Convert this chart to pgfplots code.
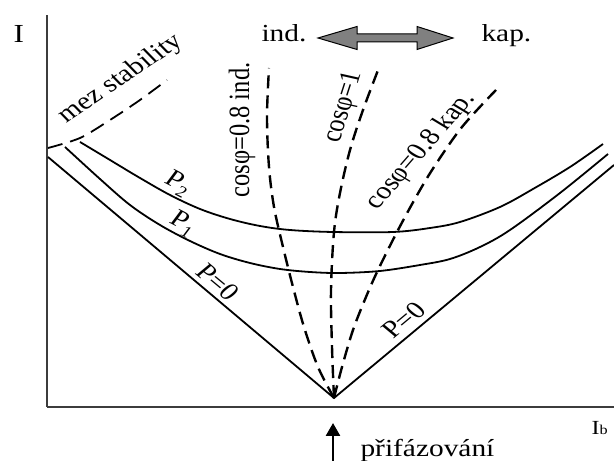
\documentclass[border=0pt]{standalone}
\usepackage{fontspec}
\setmainfont{Liberation Serif}
\usepackage{graphicx}
\usepackage{pgfplots}
\pgfplotsset{compat=1.18}
\usetikzlibrary{arrows.meta}

\definecolor{arrowgray}{RGB}{128,128,128}
\definecolor{axisgray}{RGB}{60,60,60}

% text widened horizontally, optionally rotated
\newcommand{\lab}[2]{\scalebox{1.2}[1]{\rotatebox{#1}{#2}}}
\newcommand{\sub}[1]{\raisebox{-0.22em}{\fontsize{16bp}{16bp}\selectfont #1}}

\pgfplotstableread{
x y
48 250
334 9
614 242
}\pzero

\pgfplotstableread{
x y
65 260
100 228
130 202
160 182
190 166
220 153
250 144
280 138
310 135
340 134
380 136
420 142
450 148
480 160
510 177
560 214
608 253
}\pone

\pgfplotstableread{
x y
80 265
110 247
140 229
170 212
200 198
230 188
260 181
290 177
333 175
393 175
430 179
460 185
500 200
533 218
570 240
603 263
}\ptwo

\pgfplotstableread{
x y
334 9
318 40
304 80
293 120
283 160
274 200
269 240
267 290
269 339
}\cosind

\pgfplotstableread{
x y
334 9
332 60
331 117
334 175
340 214
350 257
363 297
380 342
}\cosone

\pgfplotstableread{
x y
334 9
342 40
353 77
366 110
378 137
397 175
416 210
434 240
462 280
496 317
}\coskap

\pgfplotstableread{
x y
48 259
80 269
110 287
140 307
167 327
}\mez

\begin{document}
\begin{tikzpicture}[font=\fontsize{24.5bp}{28bp}\selectfont]
\begin{axis}[
  x=1bp, y=1bp,
  xmin=47, xmax=614, ymin=0, ymax=392,
  axis x line*=bottom, axis y line*=left,
  axis line style={axisgray, line width=1.2bp},
  xtick=\empty, ytick=\empty,
  clip=false,
]
% constant-power curves
\addplot[black, line width=1.8bp] table {\pzero};
\addplot[black, line width=1.8bp, smooth, tension=0.55] table {\pone};
\addplot[black, line width=1.8bp, smooth, tension=0.55] table {\ptwo};
% constant power-factor curves
\addplot[black, line width=2.4bp, dash pattern=on 13bp off 7bp, smooth, tension=0.55] table {\cosind};
\addplot[black, line width=2.4bp, dash pattern=on 13bp off 7bp, smooth, tension=0.55] table {\cosone};
\addplot[black, line width=2.4bp, dash pattern=on 13bp off 7bp, smooth, tension=0.55] table {\coskap};
% stability limit
\addplot[black, line width=1.8bp, dash pattern=on 15bp off 8bp, smooth] table {\mez};

% labels
\node[anchor=base west] at (axis cs:10,364) {\lab{0}{\fontsize{26bp}{28bp}\selectfont I}};
\node[anchor=base west] at (axis cs:258,365) {\lab{0}{ind.}};
\node[anchor=base west] at (axis cs:478,365) {\lab{0}{kap.}};
\node[anchor=base west] at (axis cs:588,-28) {\lab{0}{\fontsize{20bp}{22bp}\selectfont I{\fontsize{13.5bp}{14bp}\selectfont b}}};
\node[anchor=base west] at (axis cs:357,-50) {\lab{0}{přifázování}};
\node at (axis cs:121,328) {\lab{39}{mez stability}};
\node at (axis cs:242,277) {\lab{90}{cosφ=0.8 ind.}};
\node at (axis cs:344,300) {\lab{75}{cosφ=1}};
\node at (axis cs:421,256) {\lab{54}{cosφ=0.8 kap.}};
\node at (axis cs:178,223) {\lab{-32}{P\sub{2}}};
\node at (axis cs:183,183) {\lab{-32}{P\sub{1}}};
\node at (axis cs:218,125) {\lab{-45}{P=0}};
\node at (axis cs:404,87) {\lab{45}{P=0}};

% double arrow between inductive and capacitive regions
\filldraw[fill=arrowgray, draw=black, line width=1bp]
  (axis cs:318,369) -- (axis cs:357,380.5) -- (axis cs:357,373) -- (axis cs:417,373)
  -- (axis cs:417,380.5) -- (axis cs:453,369) -- (axis cs:417,357.5) -- (axis cs:417,365)
  -- (axis cs:357,365) -- (axis cs:357,357.5) -- cycle;
% synchronisation point
\draw[black, line width=2.6bp, -{Triangle[length=13bp,width=14bp]}]
  (axis cs:333,-54) -- (axis cs:333,-16);

\coordinate (bb1) at (axis cs:0,-54);
\coordinate (bb2) at (axis cs:614,407);
\end{axis}
\pgfresetboundingbox
\path[use as bounding box] (bb1) rectangle (bb2);
\end{tikzpicture}
\end{document}
